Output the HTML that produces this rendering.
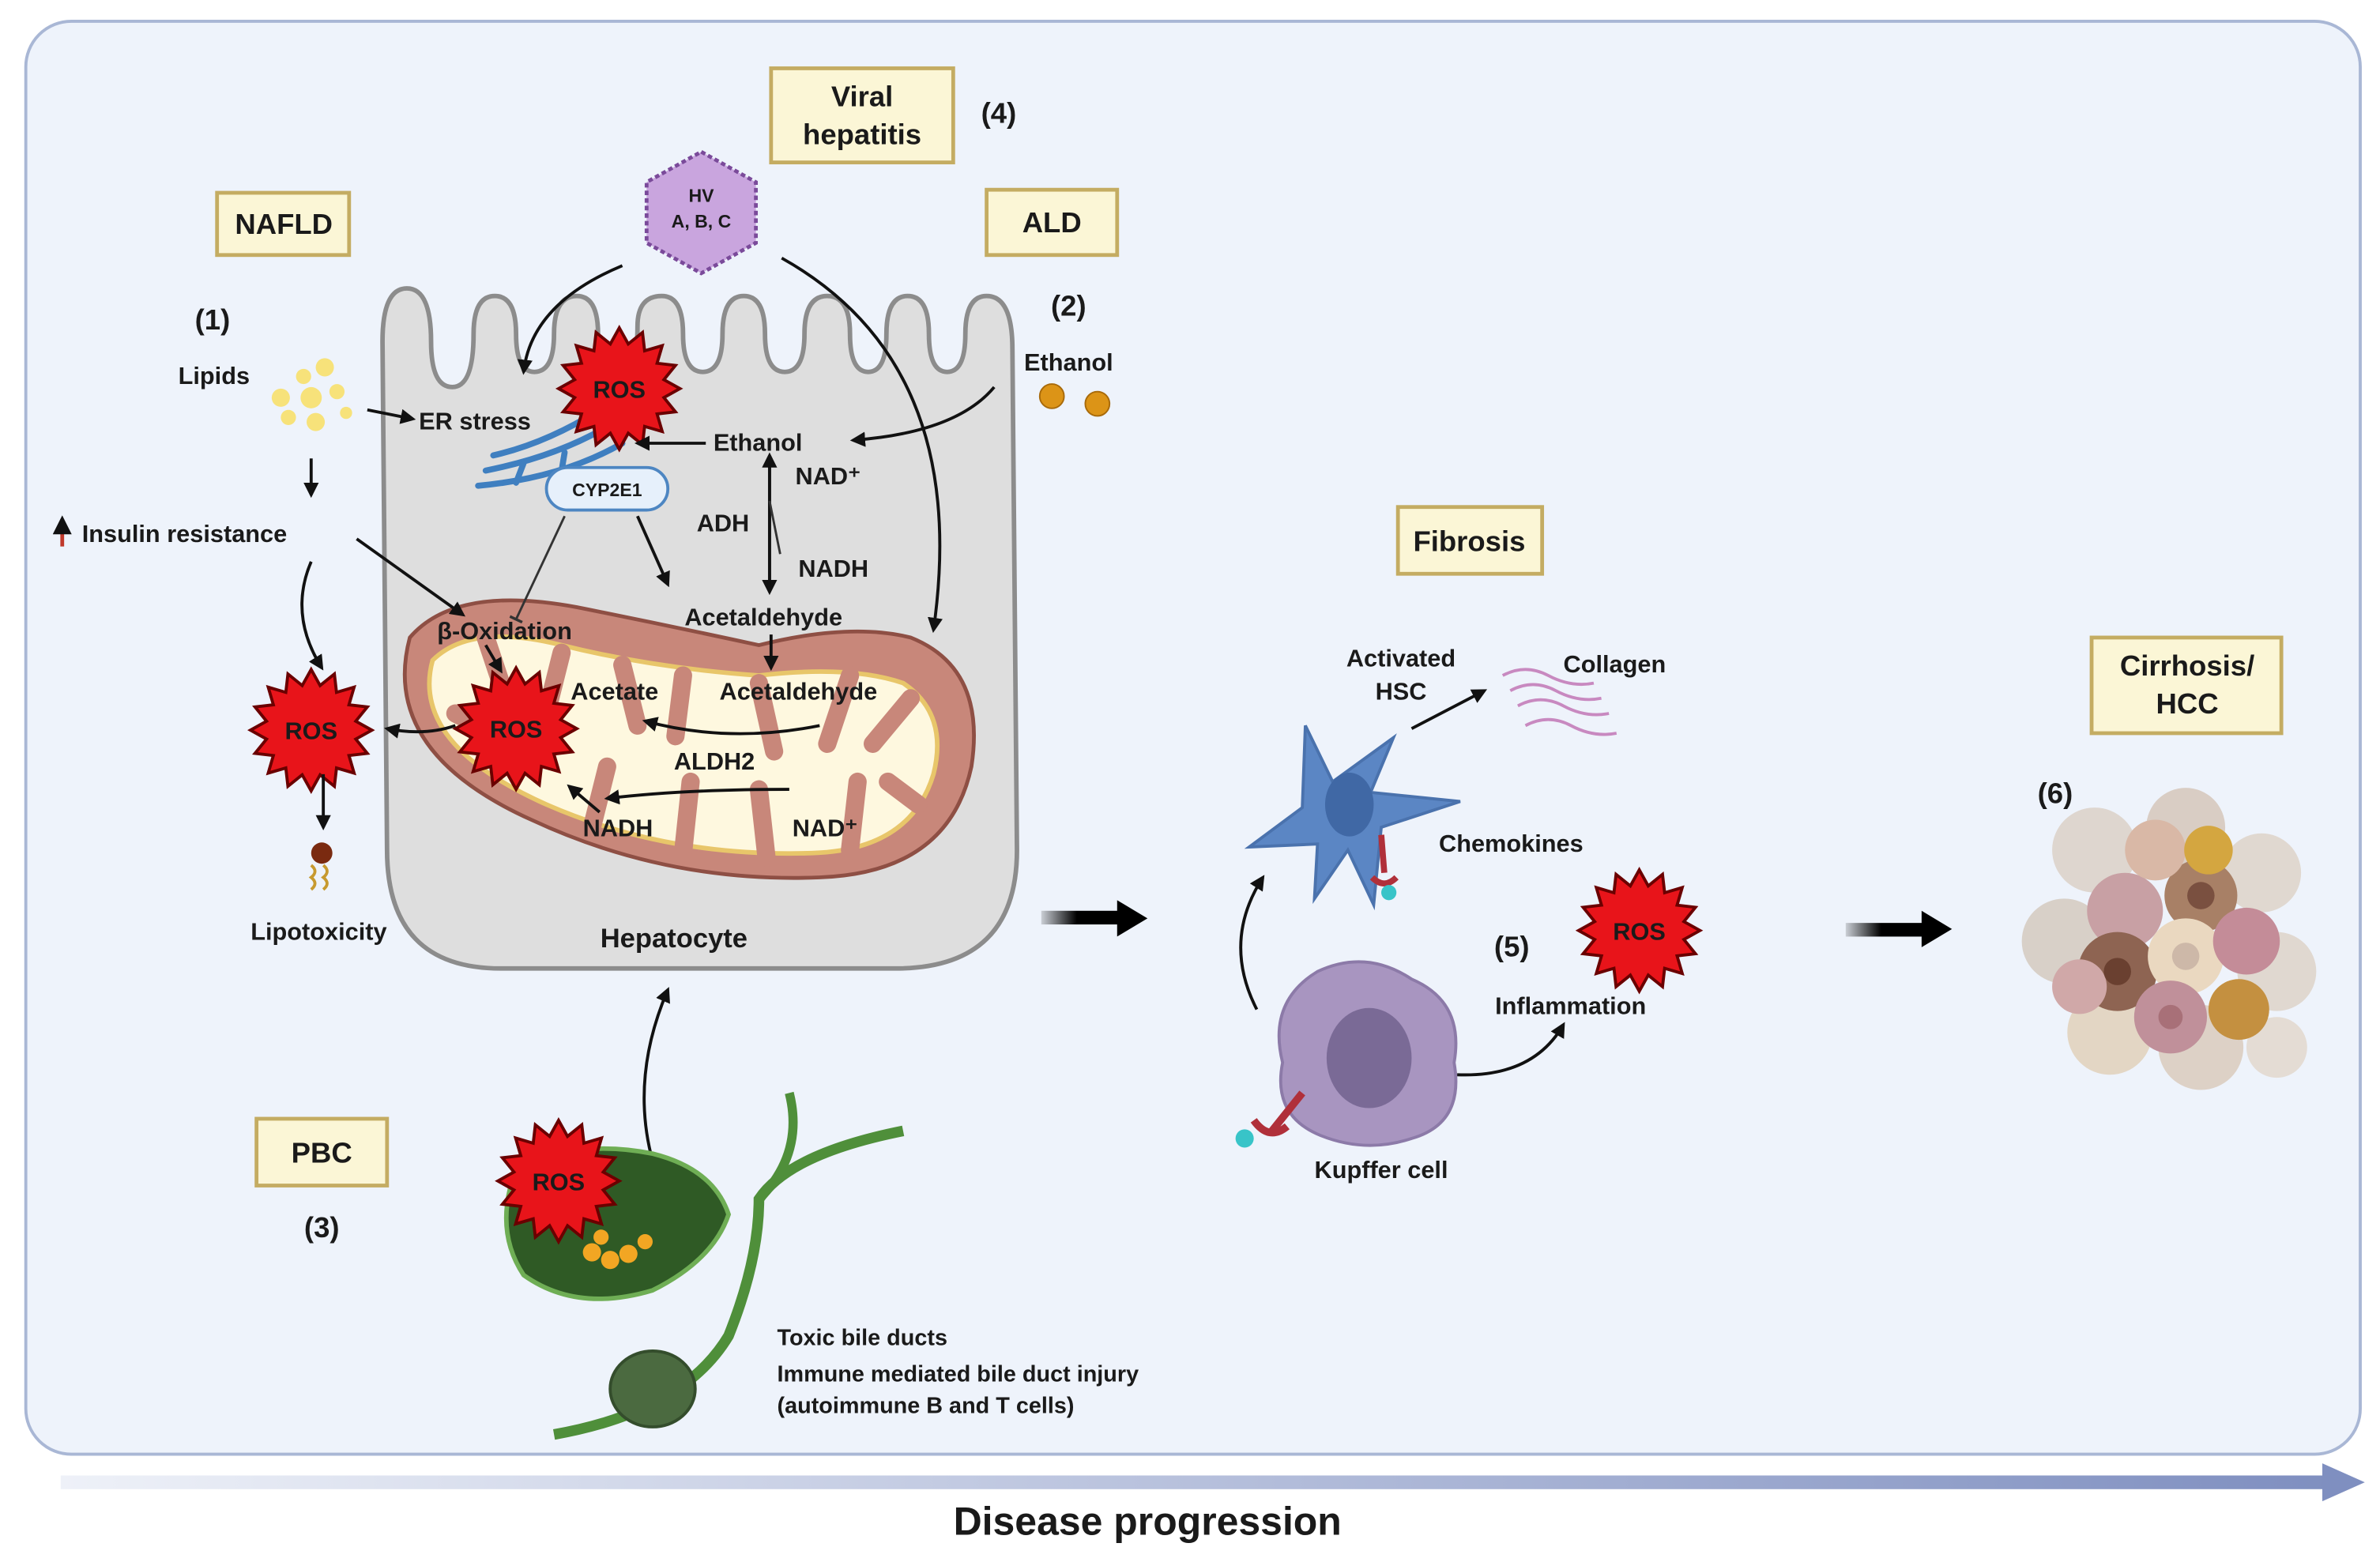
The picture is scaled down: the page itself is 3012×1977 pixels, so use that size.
<!DOCTYPE html>
<html><head><meta charset="utf-8"><style>
html,body{margin:0;padding:0;background:#fff}
svg{display:block}
text{font-family:"Liberation Sans",sans-serif;font-weight:bold;fill:#1a1a1a}
</style></head><body>
<svg width="3012" height="1977" viewBox="0 0 1568 1029" preserveAspectRatio="none" xmlns="http://www.w3.org/2000/svg">
<defs>
<linearGradient id="prog" x1="0" x2="1"><stop offset="0" stop-color="#eef1f8"/><stop offset="1" stop-color="#7f8fc0"/></linearGradient>
<linearGradient id="blk" x1="0" x2="1"><stop offset="0" stop-color="#000" stop-opacity="0.15"/><stop offset="0.45" stop-color="#000"/></linearGradient>
<marker id="ah" viewBox="0 0 10 10" refX="8" refY="5" markerWidth="5" markerHeight="5" orient="auto"><path d="M0,0 L10,5 L0,10 z" fill="#111"/></marker>
<marker id="tb" viewBox="0 0 10 10" refX="5" refY="5" markerWidth="6" markerHeight="6" orient="auto"><path d="M5,0 L5,10" stroke="#333" stroke-width="2"/></marker>
<polygon id="star" points="40,0 29.4,5.9 37,15.3 24.9,16.7 28.3,28.3 16.7,24.9 15.3,37 5.9,29.4 0,40 -5.9,29.4 -15.3,37 -16.7,24.9 -28.3,28.3 -24.9,16.7 -37,15.3 -29.4,5.9 -40,0 -29.4,-5.9 -37,-15.3 -24.9,-16.7 -28.3,-28.3 -16.7,-24.9 -15.3,-37 -5.9,-29.4 0,-40 5.9,-29.4 15.3,-37 16.7,-24.9 28.3,-28.3 24.9,-16.7 37,-15.3 29.4,-5.9" fill="#e8141a" stroke="#6a0000" stroke-width="2"/>
</defs>
<rect x="17" y="14" width="1538" height="944" rx="30" fill="#eef3fb" stroke="#a9b7d5" stroke-width="2"/>
<rect x="40" y="972" width="1495" height="9" fill="url(#prog)"/>
<polygon points="1530,964 1558,976.5 1530,989" fill="#7f8fc0"/>
<text x="756" y="1011" font-size="26" text-anchor="middle">Disease progression</text>

<path d="M252,225 Q252,190 268,190 Q284,190 284,225 Q284,255 298,255 Q312,255 312,220 Q312,195 326,195 Q340,195 340,220 Q340,245 352,245 Q365,245 365,220 Q365,195 380,195 Q394,195 394,220 Q394,245 408,245 Q420,245 420,215 Q420,195 436,195 Q450,195 450,220 Q450,245 463,245 Q476,245 476,220 Q476,195 490,195 Q504,195 504,220 Q504,245 517,245 Q530,245 530,220 Q530,195 545,195 Q560,195 560,220 Q560,245 572,245 Q584,245 584,220 Q584,195 598,195 Q612,195 612,220 Q612,245 624,245 Q636,245 636,220 Q636,195 650,195 Q667,195 667,230 L670,560 Q670,638 590,638 L330,638 Q255,638 255,560 Z" fill="#dedede" stroke="#8c8c8c" stroke-width="3"/>
<path d="M270,420 Q300,385 380,400 Q440,412 500,425 Q560,410 600,420 Q650,440 640,505 Q625,575 540,578 Q440,582 350,540 Q250,495 270,420 Z" fill="#c8877a" stroke="#8e4f44" stroke-width="2.5"/>
<path d="M285,435 Q310,410 370,425 Q430,440 500,445 Q560,438 595,450 Q625,470 615,510 Q600,560 535,562 Q440,565 360,530 Q270,490 285,435 Z" fill="#fef8df" stroke="#e8c66a" stroke-width="3"/>
<g stroke="#c8877a" stroke-width="12" stroke-linecap="round" fill="none">
<path d="M320,420 L335,465"/><path d="M370,430 L360,470"/><path d="M410,438 L420,478"/><path d="M450,445 L445,485"/><path d="M500,450 L510,495"/><path d="M560,445 L545,490"/><path d="M600,460 L575,490"/>
<path d="M390,545 L400,505"/><path d="M450,562 L455,515"/><path d="M505,565 L500,520"/><path d="M560,560 L565,515"/><path d="M605,530 L585,515"/><path d="M300,470 L320,480"/>
</g>
<g stroke="#3f7fc0" stroke-width="4" fill="none" stroke-linecap="round">
<path d="M320,310 Q370,300 405,278"/><path d="M315,320 Q370,315 410,292"/><path d="M325,300 Q360,292 395,270"/>
<path d="M340,318 L345,305"/><path d="M370,310 L372,298"/>
</g>
<rect x="360" y="308" width="80" height="28" rx="14" fill="#e6f0fb" stroke="#4d86c2" stroke-width="2"/>
<text x="400" y="327" font-size="12" text-anchor="middle" fill="#333">CYP2E1</text>

<g transform="translate(408,256)"><use href="#star"/></g>
<text x="408" y="262" font-size="16" text-anchor="middle" fill="#3a0000">ROS</text>
<g transform="translate(340,480)"><use href="#star"/></g>
<text x="340" y="486" font-size="16" text-anchor="middle" fill="#3a0000">ROS</text>
<g transform="translate(205,481)"><use href="#star"/></g>
<text x="205" y="487" font-size="16" text-anchor="middle" fill="#3a0000">ROS</text>
<g transform="translate(1080,613)"><use href="#star"/></g>
<text x="1080" y="619" font-size="16" text-anchor="middle" fill="#3a0000">ROS</text>

<g fill="#fbf6d6" stroke="#c4ac62" stroke-width="2.5">
<rect x="143" y="127" width="87" height="41"/>
<rect x="508" y="45" width="120" height="62"/>
<rect x="650" y="125" width="86" height="43"/>
<rect x="921" y="334" width="95" height="44"/>
<rect x="169" y="737" width="86" height="44"/>
<rect x="1378" y="420" width="125" height="63"/>
</g>
<text x="187" y="154" font-size="19" text-anchor="middle">NAFLD</text>
<text x="568" y="70" font-size="19" text-anchor="middle">Viral</text>
<text x="568" y="95" font-size="19" text-anchor="middle">hepatitis</text>
<text x="693" y="153" font-size="19" text-anchor="middle">ALD</text>
<text x="968" y="363" font-size="19" text-anchor="middle">Fibrosis</text>
<text x="212" y="766" font-size="19" text-anchor="middle">PBC</text>
<text x="1441" y="445" font-size="19" text-anchor="middle">Cirrhosis/</text>
<text x="1441" y="470" font-size="19" text-anchor="middle">HCC</text>
<text x="658" y="81" font-size="19" text-anchor="middle">(4)</text>
<text x="140" y="217" font-size="19" text-anchor="middle">(1)</text>
<text x="704" y="208" font-size="19" text-anchor="middle">(2)</text>
<text x="212" y="815" font-size="19" text-anchor="middle">(3)</text>
<text x="996" y="630" font-size="19" text-anchor="middle">(5)</text>
<text x="1354" y="529" font-size="19" text-anchor="middle">(6)</text>

<polygon points="462,100 498,120 498,160 462,180 426,160 426,120" fill="#c9a5de" stroke="#7a4a9a" stroke-width="2.5" stroke-dasharray="3,2"/>
<text x="462" y="133" font-size="12" text-anchor="middle" fill="#2a1a3a">HV</text>
<text x="462" y="150" font-size="12" text-anchor="middle" fill="#2a1a3a">A, B, C</text>

<g fill="#f7e27a"><circle cx="185" cy="262" r="6"/><circle cx="200" cy="248" r="5"/><circle cx="214" cy="242" r="6"/><circle cx="205" cy="262" r="7"/><circle cx="222" cy="258" r="5"/><circle cx="190" cy="275" r="5"/><circle cx="208" cy="278" r="6"/><circle cx="228" cy="272" r="4"/></g>
<circle cx="693" cy="261" r="8" fill="#dc9417" stroke="#a86a0a"/>
<circle cx="723" cy="266" r="8" fill="#dc9417" stroke="#a86a0a"/>

<g font-size="16">
<text x="141" y="253" text-anchor="middle">Lipids</text>
<text x="276" y="283">ER stress</text>
<text x="704" y="244" text-anchor="middle">Ethanol</text>
<text x="470" y="297">Ethanol</text>
<text x="524" y="319">NAD⁺</text>
<text x="459" y="350">ADH</text>
<text x="526" y="380">NADH</text>
<text x="451" y="412">Acetaldehyde</text>
<text x="288" y="421">β-Oxidation</text>
<text x="376" y="461">Acetate</text>
<text x="474" y="461">Acetaldehyde</text>
<text x="444" y="507">ALDH2</text>
<text x="384" y="551">NADH</text>
<text x="522" y="551">NAD⁺</text>
<text x="54" y="357">Insulin resistance</text>
<text x="210" y="619" text-anchor="middle">Lipotoxicity</text>
<text x="444" y="624" text-anchor="middle" font-size="18">Hepatocyte</text>
<text x="923" y="439" text-anchor="middle">Activated</text>
<text x="923" y="461" text-anchor="middle">HSC</text>
<text x="1030" y="443">Collagen</text>
<text x="948" y="561">Chemokines</text>
<text x="985" y="668">Inflammation</text>
<text x="866" y="776">Kupffer cell</text>
<text x="512" y="886" font-size="15">Toxic bile ducts</text>
<text x="512" y="910" font-size="15">Immune mediated bile duct injury</text>
<text x="512" y="931" font-size="15">(autoimmune B and T cells)</text>
</g>
<path d="M41,360 L41,342" stroke="#c0392b" stroke-width="2.5" marker-end="url(#ah)"/>

<g stroke="#111" stroke-width="2" fill="none" marker-end="url(#ah)">
<path d="M410,175 Q350,200 345,245"/>
<path d="M515,170 Q640,240 615,415"/>
<path d="M655,255 Q630,285 562,290"/>
<path d="M242,270 L272,276"/>
<path d="M205,302 L205,326"/>
<path d="M465,292 L420,292"/>
<path d="M507,305 L507,390"/>
<path d="M507,390 L507,300"/>
<path d="M420,340 L440,385"/>
<path d="M235,355 L305,405"/>
<path d="M205,370 Q190,405 212,440"/>
<path d="M320,425 L330,442"/>
<path d="M508,418 L508,440"/>
<path d="M540,478 Q480,490 425,475"/>
<path d="M520,520 Q450,520 400,526"/>
<path d="M395,535 L375,518"/>
<path d="M300,478 Q280,485 255,480"/>
<path d="M213,510 L213,545"/>
<path d="M930,480 L978,455"/>
<path d="M828,665 Q805,620 832,578"/>
<path d="M960,708 Q1010,710 1030,675"/>
<path d="M430,765 Q415,710 440,652"/>
</g>
<path d="M372,340 L340,408" stroke="#333" stroke-width="1.5" marker-end="url(#tb)"/>
<path d="M507,330 L514,365" stroke="#333" stroke-width="1.5"/>
<rect x="686" y="600" width="52" height="9" fill="url(#blk)"/><polygon points="736,593 756,605 736,617" fill="#000"/>
<rect x="1216" y="608" width="52" height="9" fill="url(#blk)"/><polygon points="1266,600 1286,612 1266,624" fill="#000"/>

<circle cx="212" cy="562" r="7" fill="#7a2a10"/><path d="M205,570 q5,4 0,8 q5,4 0,8 M213,570 q5,4 0,8 q5,4 0,8" stroke="#c79a30" stroke-width="2" fill="none"/>

<path d="M860,478 L878,515 L918,486 L903,522 L962,528 L910,545 L905,596 L888,560 L866,592 L868,556 L823,558 L858,532 Z" fill="#5b86c4" stroke="#4a72ad" stroke-width="2"/>
<ellipse cx="889" cy="530" rx="16" ry="21" fill="#4068a5"/>
<path d="M990,445 q15,-8 30,0 t30,5 M995,455 q15,-8 30,0 t30,5 M1000,465 q15,-8 30,0 t30,5 M1005,478 q15,-8 30,0 t30,5" stroke="#c889c0" stroke-width="2" fill="none"/>
<path d="M910,550 L912,575 M904,578 q8,8 16,0" stroke="#b0303a" stroke-width="4" fill="none"/><circle cx="915" cy="588" r="5" fill="#38c4c8"/>
<path d="M868,640 Q900,625 930,645 Q965,660 958,700 Q965,740 930,750 Q900,760 870,748 Q838,735 845,700 Q835,660 868,640 Z" fill="#a895c0" stroke="#8c7aa8" stroke-width="2"/>
<ellipse cx="902" cy="697" rx="28" ry="33" fill="#7a6a96"/>
<path d="M858,720 L838,745 M826,738 q10,14 22,4" stroke="#b0303a" stroke-width="5" fill="none"/><circle cx="820" cy="750" r="6" fill="#38c4c8"/>

<g>
<circle cx="1380" cy="560" r="28" fill="#ded6cf"/><circle cx="1440" cy="545" r="26" fill="#d9cdc4"/><circle cx="1490" cy="575" r="26" fill="#e0d8d0"/>
<circle cx="1360" cy="620" r="28" fill="#d8d0c8"/><circle cx="1500" cy="640" r="26" fill="#e0d8d0"/><circle cx="1390" cy="680" r="28" fill="#e3d6c4"/>
<circle cx="1450" cy="690" r="28" fill="#ddd1c6"/><circle cx="1500" cy="690" r="20" fill="#e4dcd4"/>
<circle cx="1400" cy="600" r="25" fill="#c8a0a4"/><circle cx="1450" cy="590" r="24" fill="#a88066"/><circle cx="1420" cy="560" r="20" fill="#d9b8a6"/>
<circle cx="1455" cy="560" r="16" fill="#d4a640"/><circle cx="1395" cy="640" r="26" fill="#8e6452"/><circle cx="1440" cy="630" r="25" fill="#ead8c0"/>
<circle cx="1480" cy="620" r="22" fill="#c48c98"/><circle cx="1430" cy="670" r="24" fill="#c0909a"/><circle cx="1475" cy="665" r="20" fill="#c49040"/>
<circle cx="1370" cy="650" r="18" fill="#d0a8a8"/>
<circle cx="1395" cy="640" r="9" fill="#6a4030"/><circle cx="1440" cy="630" r="9" fill="#cdb8a8"/><circle cx="1450" cy="590" r="9" fill="#7a5040"/><circle cx="1430" cy="670" r="8" fill="#a87078"/>
</g>

<path d="M365,945 Q450,930 480,880 Q500,830 500,790 Q520,760 595,745" stroke="#4f8f3a" stroke-width="7" fill="none"/>
<path d="M500,790 Q530,760 520,720" stroke="#4f8f3a" stroke-width="6" fill="none"/>
<path d="M340,770 Q380,750 430,760 Q470,770 480,800 Q470,830 430,850 Q380,865 345,840 Q325,810 340,770 Z" fill="#2f5a25" stroke="#6fae55" stroke-width="3"/>
<g fill="#f2a623"><circle cx="390" cy="825" r="6"/><circle cx="402" cy="830" r="6"/><circle cx="414" cy="826" r="6"/><circle cx="396" cy="815" r="5"/><circle cx="425" cy="818" r="5"/></g>
<ellipse cx="430" cy="915" rx="28" ry="25" fill="#4b6a40" stroke="#344d2c" stroke-width="2"/>
<g transform="translate(368,778)"><use href="#star"/></g>
<text x="368" y="784" font-size="16" text-anchor="middle" fill="#3a0000">ROS</text>
</svg>
</body></html>
